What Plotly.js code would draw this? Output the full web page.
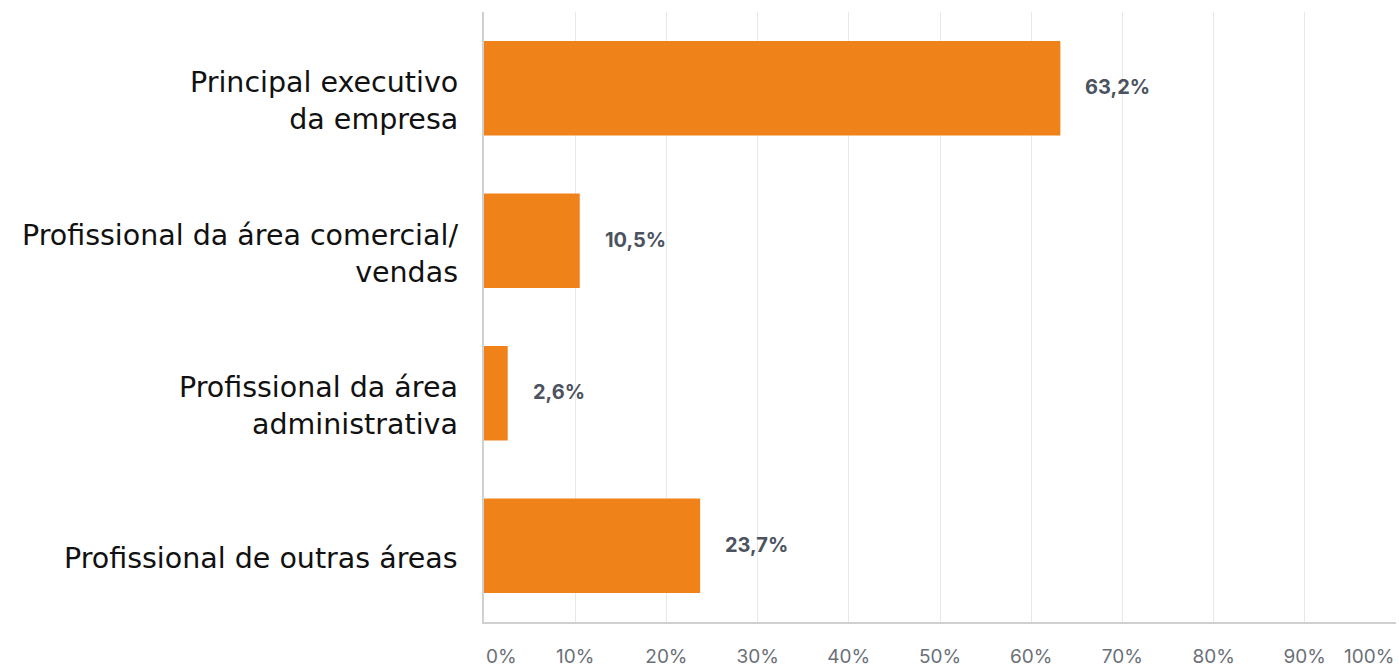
<!DOCTYPE html>
<html>
<head>
<meta charset="utf-8">
<script src="https://cdn.plot.ly/plotly-3.0.1.min.js"></script>
<style>html,body{margin:0;padding:0;background:#fff;}#chart{width:1399px;height:668px;}</style>
</head>
<body>
<div id="chart"></div>
<script>
const categories = ["Principal executivo<br>da empresa", "Profissional da área comercial/<br>vendas", "Profissional da área<br>administrativa", "Profissional de outras áreas"];
const values = [63.2, 10.5, 2.6, 23.7];
const valueLabels = ["63,2%", "10,5%", "2,6%", "23,7%"];
const tickValues = [0, 10, 20, 30, 40, 50, 60, 70, 80, 90, 100];
const tickLabels = ["0%", "10%", "20%", "30%", "40%", "50%", "60%", "70%", "80%", "90%", "100%"];

const trace = {
  type: 'bar', orientation: 'h',
  x: values, y: categories,
  marker: {color: '#F0821A'},
  hoverinfo: 'none'
};
const tickFont = {family: 'Inter, sans-serif', size: 19, color: '#6B7078'};
const annotations = values.map((v, i) => ({
  x: v, y: categories[i], xref: 'x', yref: 'y',
  text: valueLabels[i], showarrow: false, xanchor: 'left', xshift: 23, yshift: 1,
  font: {family: 'Inter, sans-serif', size: 20, color: '#4B5360', weight: 700}
}));
categories.forEach((c) => annotations.push({
  x: 0, xref: 'paper', y: c, yref: 'y', text: c, showarrow: false,
  xanchor: 'right', align: 'right', xshift: -24, yshift: -13,
  font: {family: 'DejaVu Sans, sans-serif', size: 28.5, color: '#111'}
}));
// first and last x tick labels are kept inside the plot edges
annotations.push({x: tickValues[0], xref: 'x', y: 0, yref: 'paper', yanchor: 'top', xanchor: 'left',
  yshift: -21, text: tickLabels[0], showarrow: false, font: tickFont});
annotations.push({x: tickValues[tickValues.length - 1], xref: 'x', y: 0, yref: 'paper', yanchor: 'top', xanchor: 'right',
  yshift: -21, text: tickLabels[tickLabels.length - 1], showarrow: false, font: tickFont});
const innerText = tickLabels.map((t, i) => (i === 0 || i === tickLabels.length - 1) ? '' : t);

const layout = {
  width: 1399, height: 668,
  margin: {l: 484, r: 3, t: 12, b: 46},
  paper_bgcolor: '#fff', plot_bgcolor: '#fff',
  bargap: 0.38,
  showlegend: false,
  xaxis: {
    range: [0, 100], tickvals: tickValues, ticktext: innerText,
    showgrid: true, gridcolor: '#E8E8E8', gridwidth: 1,
    showline: true, linecolor: '#D0D0D0', linewidth: 2, zeroline: false,
    ticks: '', ticklabelstandoff: 16,
    tickfont: tickFont,
    fixedrange: true
  },
  yaxis: {
    categoryorder: 'array', categoryarray: categories,
    autorange: 'reversed',
    showline: true, linecolor: '#D0D0D0', linewidth: 2, showgrid: false, zeroline: false,
    showticklabels: false, ticks: '',
    fixedrange: true
  },
  annotations: annotations
};
Plotly.newPlot('chart', [trace], layout, {displayModeBar: false, staticPlot: true});
</script>
</body>
</html>
